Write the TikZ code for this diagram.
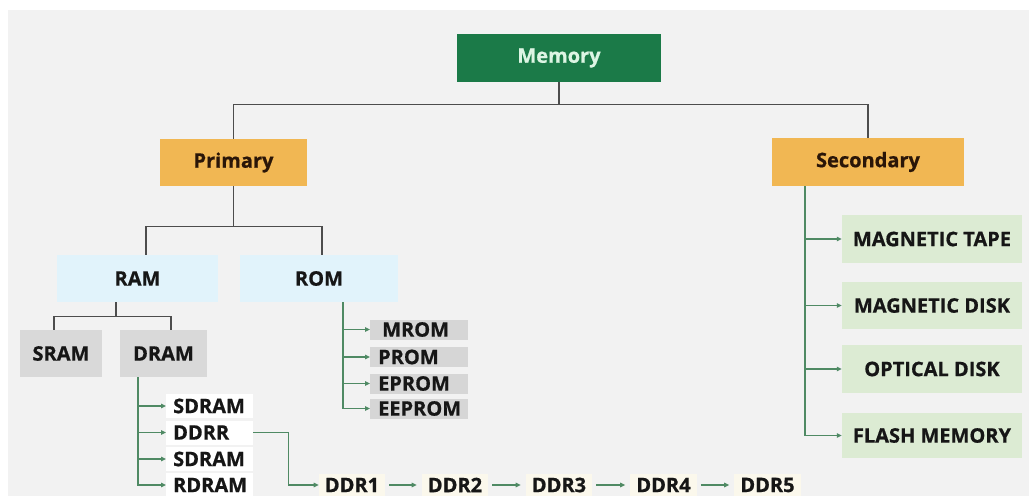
\documentclass[tikz,border=0pt]{standalone}
\usepackage{fontspec}
\setmainfont{Open Sans}[BoldFeatures={FakeBold=0.7}]
\usetikzlibrary{arrows.meta}
\definecolor{bggrey}{HTML}{F2F2F2}
\definecolor{memgreen}{HTML}{1B7A48}
\definecolor{memtext}{HTML}{DDF5E4}
\definecolor{levelorange}{HTML}{F1B753}
\definecolor{leveltext}{HTML}{2A1608}
\definecolor{ramblue}{HTML}{E1F3FB}
\definecolor{chipgrey}{HTML}{D9D9D9}
\definecolor{romgrey}{HTML}{D6D6D6}
\definecolor{storegreen}{HTML}{DCEBD3}
\definecolor{ddrcream}{HTML}{FBF8EC}
\definecolor{treeline}{HTML}{4D4D4D}
\definecolor{linkgreen}{HTML}{4F8A64}
\definecolor{inktext}{HTML}{161616}
\begin{document}
\begin{tikzpicture}[x=1pt,y=-1pt,
  lbl/.style={rectangle, inner sep=0pt, text=inktext,
    font=\bfseries\fontsize{20}{23}\selectfont},
  topbox/.style={lbl, fill=memgreen, text=memtext},
  levelbox/.style={lbl, fill=levelorange, text=leveltext, minimum height=47pt},
  rambox/.style={lbl, fill=ramblue, minimum height=47pt},
  chipbox/.style={lbl, fill=chipgrey, minimum height=47pt},
  rombox/.style={lbl, fill=romgrey, anchor=west, inner xsep=8pt, text width=82pt,
    align=left, minimum height=20pt},
  dramkid/.style={lbl, fill=white, anchor=west, inner xsep=7pt, text width=73pt,
    align=left, minimum height=24pt},
  storebox/.style={lbl, fill=storegreen, minimum width=180pt},
  ddrbox/.style={lbl, fill=ddrcream, inner xsep=6pt, minimum height=22pt},
  tline/.style={draw=treeline, line width=1.4pt},
  glink/.style={draw=linkgreen, line width=1.3pt},
  garrow/.style={glink, -{Triangle[length=5pt,width=4.5pt]}}
]
\useasboundingbox (0,0) rectangle (1029,496);
\fill[white] (0,0) rectangle (1029,496);
\fill[bggrey] (8,10) rectangle (1029,496);

% top levels
\node[topbox, minimum width=204pt, minimum height=48pt] (mem) at (559,58) {Memory};
\node[levelbox, minimum width=147pt] (prim) at (233.5,162.5) {Primary};
\node[levelbox, minimum width=192pt, minimum height=48pt] (sec) at (868,162) {Secondary};

% primary memory
\node[rambox, minimum width=161pt] (ram) at (137.5,278.5) {RAM};
\node[rambox, minimum width=158pt] (rom) at (319,278.5) {ROM};
\node[chipbox, minimum width=82pt] (sram) at (61,353.5) {SRAM};
\node[chipbox, minimum width=87pt] (dram) at (163.5,353.5) {DRAM};

% ROM types
\node[rombox] (mrom) at (370,329.5) {\hspace{4pt}MROM};
\node[rombox] (prom) at (370,357) {PROM};
\node[rombox] (eprom) at (370,383.5) {EPROM};
\node[rombox] (eeprom) at (370,408.5) {EEPROM};

% DRAM types
\node[dramkid] (k1) at (166,406) {SDRAM};
\node[dramkid] (k2) at (166,432.5) {DDRR};
\node[dramkid] (k3) at (166,459) {SDRAM};
\node[dramkid] (k4) at (166,485) {RDRAM};

% DDR generations
\node[ddrbox] (d1) at (352,485) {DDR1};
\node[ddrbox] (d2) at (455,485) {DDR2};
\node[ddrbox] (d3) at (559,485) {DDR3};
\node[ddrbox] (d4) at (663.5,485) {DDR4};
\node[ddrbox] (d5) at (767.5,485) {DDR5};

% secondary storage
\node[storebox, minimum height=48pt] (tape) at (932,239) {MAGNETIC TAPE};
\node[storebox, minimum height=47pt] (disk) at (932,305.5) {MAGNETIC DISK};
\node[storebox, minimum height=48pt] (optic) at (932,369) {OPTICAL DISK};
\node[storebox, minimum height=45pt] (flash) at (932,435.5) {FLASH MEMORY};

% tree connectors
\draw[tline] (mem.south) -- ++(0,22) coordinate (j1);
\draw[tline] (prim.north) |- (j1) -| (sec.north);
\draw[tline] (prim.south) -- ++(0,40) coordinate (j2);
\draw[tline] ([xshift=8.5pt]ram.north) |- (j2) -| ([xshift=3pt]rom.north);
\draw[tline] ([xshift=-21.5pt]ram.south) -- ++(0,14) coordinate (j3);
\draw[tline] ([xshift=-7pt]sram.north) |- (j3) -| ([xshift=7.5pt]dram.north);

% branch arrows
\coordinate (dtop) at ([xshift=-25.5pt]dram.south);
\foreach \k in {k1,k2,k3,k4} \draw[garrow] (dtop) |- (\k.west);
\coordinate (rtop) at ([xshift=24pt]rom.south);
\foreach \k in {mrom,prom,eprom,eeprom} \draw[garrow] (rtop) |- (\k.west);
\coordinate (stop) at ([xshift=-63pt]sec.south);
\foreach \k in {tape,disk,optic,flash} \draw[garrow] (stop) |- (\k.west);

% DDR chain
\draw[garrow] (k2.east) -- ++(35,0) |- (d1.west);
\draw[garrow, shorten <=4pt, shorten >=5pt] (d1.east) -- (d2.west);
\draw[garrow, shorten <=4pt, shorten >=5pt] (d2.east) -- (d3.west);
\draw[garrow, shorten <=4pt, shorten >=5pt] (d3.east) -- (d4.west);
\draw[garrow, shorten <=4pt, shorten >=5pt] (d4.east) -- (d5.west);
\end{tikzpicture}
\end{document}
